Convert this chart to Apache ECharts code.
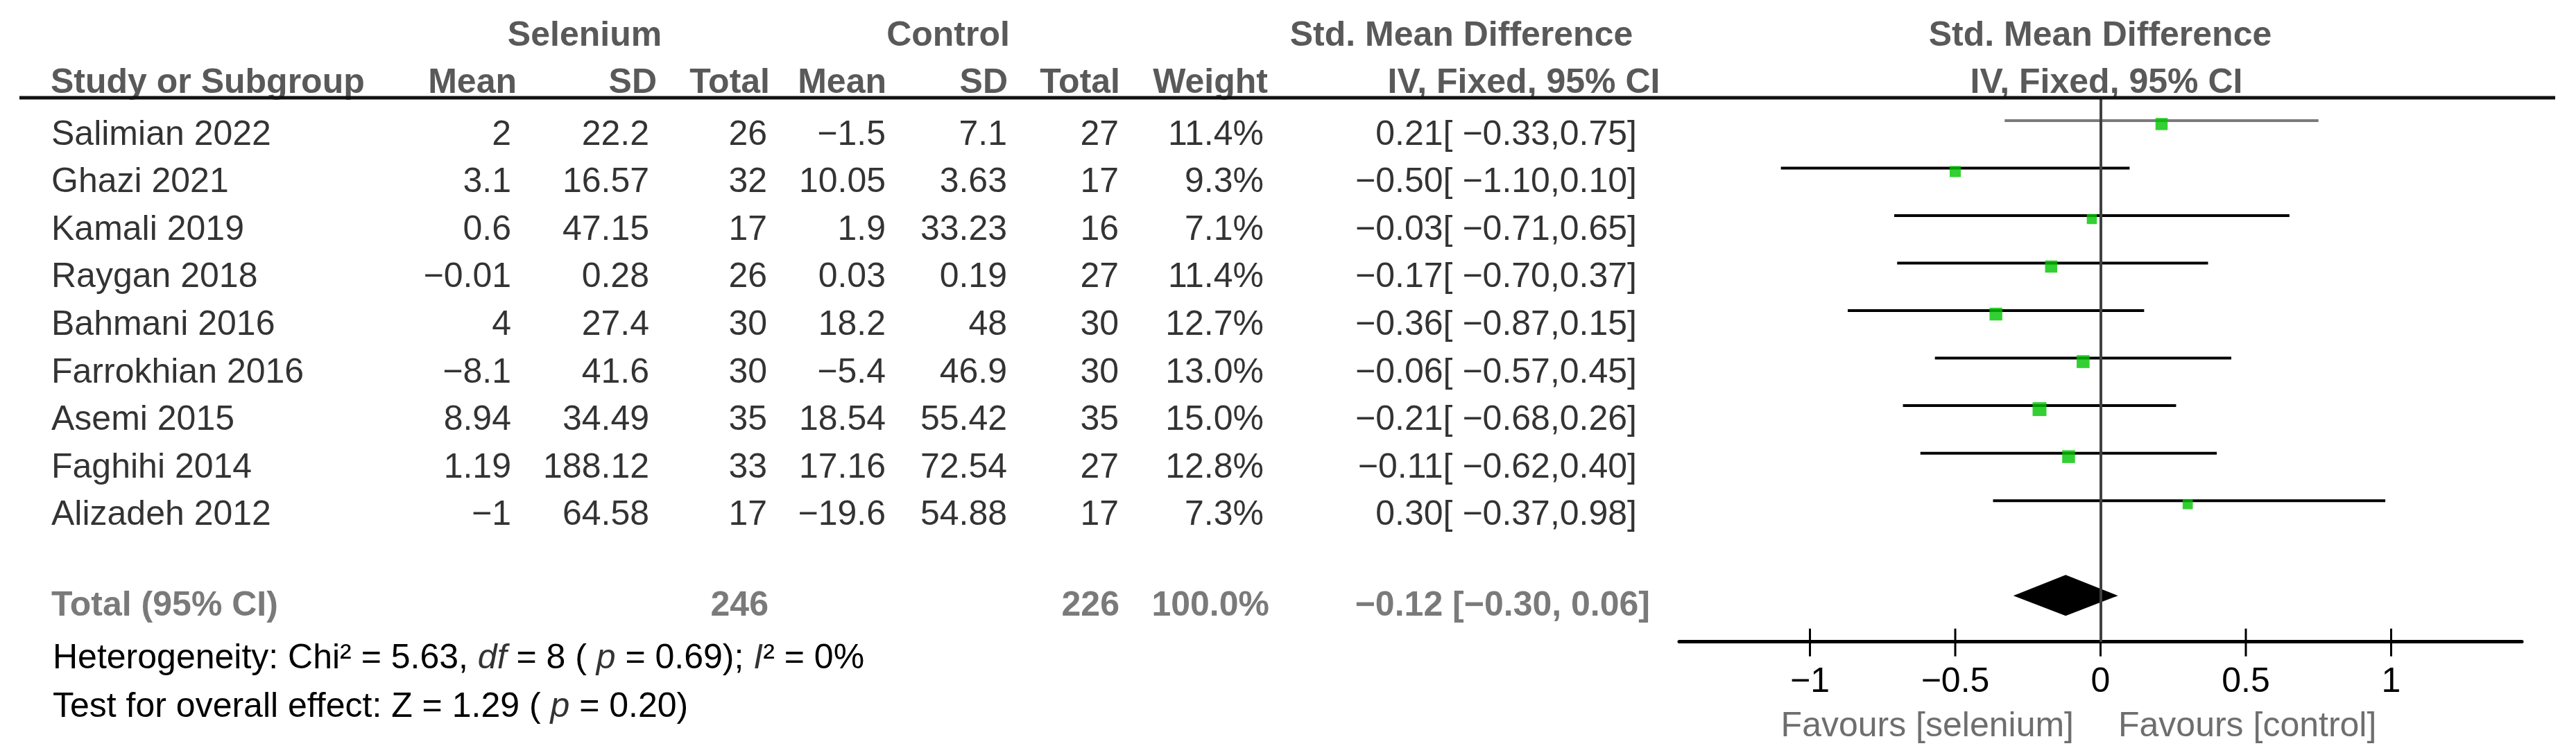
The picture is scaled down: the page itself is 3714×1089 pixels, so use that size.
<!DOCTYPE html>
<html><head><meta charset="utf-8">
<script src="https://cdn.jsdelivr.net/npm/echarts@6/dist/echarts.min.js"></script>
<style>html,body{margin:0;padding:0;background:#fff}#c{width:3714px;height:1089px}</style>
</head><body><div id="c"></div>
<script>
// ---------------- data ----------------
const studies   = ['Salimian 2022','Ghazi 2021','Kamali 2019','Raygan 2018','Bahmani 2016','Farrokhian 2016','Asemi 2015','Faghihi 2014','Alizadeh 2012'];
const selMean   = [2, 3.1, 0.6, -0.01, 4, -8.1, 8.94, 1.19, -1];
const selSD     = [22.2, 16.57, 47.15, 0.28, 27.4, 41.6, 34.49, 188.12, 64.58];
const selTotal  = [26, 32, 17, 26, 30, 30, 35, 33, 17];
const ctlMean   = [-1.5, 10.05, 1.9, 0.03, 18.2, -5.4, 18.54, 17.16, -19.6];
const ctlSD     = [7.1, 3.63, 33.23, 0.19, 48, 46.9, 55.42, 72.54, 54.88];
const ctlTotal  = [27, 17, 16, 27, 30, 30, 35, 27, 17];
const weights   = [11.4, 9.3, 7.1, 11.4, 12.7, 13.0, 15.0, 12.8, 7.3];
const smd       = [0.21, -0.50, -0.03, -0.17, -0.36, -0.06, -0.21, -0.11, 0.30];
const ciLow     = [-0.33, -1.10, -0.71, -0.70, -0.87, -0.57, -0.68, -0.62, -0.37];
const ciHigh    = [0.75, 0.10, 0.65, 0.37, 0.15, 0.45, 0.26, 0.40, 0.98];
const totalSel  = 246;
const totalCtl  = 226;
const totalWeight = 100.0;
const pooled    = [-0.12, -0.30, 0.06]; // estimate, low, high
const xTicks    = [-1, -0.5, 0, 0.5, 1];
const favours   = ['Favours [selenium]', 'Favours [control]'];

// ---------------- helpers ----------------
const FONT = '"Liberation Sans", Arial, "DejaVu Sans", sans-serif';
const FS = 50;
const HEAD = '#595959';
const INK = '#000000';
const m = v => String(v).replace('-', '\u2212');
const f2 = v => m(v.toFixed(2));
const TOTAL_ROW = 10;
const Y_MIN = -0.48, Y_MAX = 10.97;

function textCol(xPix, texts, align, rowIdx, opts) {
  opts = opts || {};
  return {
    type: 'scatter', xAxisIndex: 1, yAxisIndex: 1, silent: true, clip: false,
    symbolSize: 1, itemStyle: { color: 'rgba(0,0,0,0)' }, z: 5,
    data: texts.map((t, i) => ({ value: [xPix, rowIdx ? rowIdx[i] : i], txt: t })),
    label: {
      show: true, position: 'inside', align: align, verticalAlign: 'middle',
      offset: [0, opts.dy == null ? 18 : opts.dy],
      fontFamily: FONT, fontSize: FS, fontWeight: opts.bold ? 'bold' : 'normal',
      color: opts.color || INK,
      formatter: p => p.data.txt
    }
  };
}

const rowIdx = studies.map((_, i) => i);
const ciText = smd.map((v, i) => f2(v) + '[ ' + f2(ciLow[i]) + ',' + f2(ciHigh[i]) + ']');

const series = [
  // zero line + CI whiskers
  {
    type: 'custom', xAxisIndex: 0, yAxisIndex: 0, silent: true, z: 2,
    data: rowIdx.map(i => [ciLow[i], ciHigh[i], i]),
    renderItem: (params, api) => {
      const a = api.coord([api.value(0), api.value(2)]);
      const b = api.coord([api.value(1), api.value(2)]);
      return { type: 'line', shape: { x1: a[0], y1: a[1], x2: b[0], y2: b[1] },
        style: { stroke: params.dataIndex === 0 ? '#7a7a7a' : '#000', lineWidth: 4 } };
    },
    markLine: {
      silent: true, symbol: 'none', label: { show: false },
      lineStyle: { color: '#404040', width: 4, type: 'solid' },
      data: [{ xAxis: 0 }]
    }
  },
  // study squares
  {
    type: 'scatter', xAxisIndex: 0, yAxisIndex: 0, silent: true, z: 4,
    symbol: 'rect',
    data: rowIdx.map(i => ({ value: [smd[i], i], symbolSize: 9.5 + 0.7 * weights[i] })),
    symbolOffset: [0, 5],
    itemStyle: { color: '#00c400' }
  },
  // pooled diamond
  {
    type: 'custom', xAxisIndex: 0, yAxisIndex: 0, silent: true, z: 4,
    data: [[pooled[0], pooled[1], pooled[2], TOTAL_ROW]],
    renderItem: (params, api) => {
      const c = api.coord([api.value(0), api.value(3)]);
      const l = api.coord([api.value(1), api.value(3)]);
      const r = api.coord([api.value(2), api.value(3)]);
      return { type: 'polygon',
        shape: { points: [[l[0], c[1]], [c[0], c[1] - 30], [r[0], c[1]], [c[0], c[1] + 29]] },
        style: { fill: '#000' } };
    }
  },
  // axis ticks crossing axis line
  {
    type: 'custom', xAxisIndex: 0, yAxisIndex: 0, silent: true, z: 3,
    data: xTicks.map(v => [v, Y_MAX]),
    renderItem: (params, api) => {
      const p = api.coord([api.value(0), api.value(1)]);
      return { type: 'line', shape: { x1: p[0], y1: p[1] - 19, x2: p[0], y2: p[1] + 21 },
        style: { stroke: '#000', lineWidth: 3 } };
    }
  },
  // table columns
  textCol(74, studies, 'left'),
  textCol(737, selMean.map(m), 'right'),
  textCol(936, selSD.map(m), 'right'),
  textCol(1106, selTotal.map(String), 'right'),
  textCol(1277, ctlMean.map(m), 'right'),
  textCol(1452, ctlSD.map(m), 'right'),
  textCol(1613, ctlTotal.map(String), 'right'),
  textCol(1822, weights.map(w => w.toFixed(1) + '%'), 'right'),
  textCol(2360, ciText, 'right'),
  // total row
  textCol(74, ['Total (95% CI)'], 'left', [TOTAL_ROW], { bold: true, color: HEAD, dy: 12 }),
  textCol(1108, [String(totalSel)], 'right', [TOTAL_ROW], { bold: true, color: HEAD, dy: 12 }),
  textCol(1614, [String(totalCtl)], 'right', [TOTAL_ROW], { bold: true, color: HEAD, dy: 12 }),
  textCol(1830, [totalWeight.toFixed(1) + '%'], 'right', [TOTAL_ROW], { bold: true, color: HEAD, dy: 12 }),
  textCol(2379, [f2(pooled[0]) + ' [' + f2(pooled[1]) + ', ' + f2(pooled[2]) + ']'], 'right', [TOTAL_ROW], { bold: true, color: HEAD, dy: 12 })
];

function htext(x, y, text, align, bold, color) {
  return { type: 'text', x: x, y: y, silent: true,
    style: { text: text, align: align, verticalAlign: 'middle', fontFamily: FONT, fontSize: FS,
      fontWeight: bold ? 'bold' : 'normal', fill: color || HEAD } };
}

const graphic = [
  htext(843, 49, 'Selenium', 'center', true),
  htext(1367, 49, 'Control', 'center', true),
  htext(2107, 49, 'Std. Mean Difference', 'center', true),
  htext(3028, 49, 'Std. Mean Difference', 'center', true),
  htext(73, 117, 'Study or Subgroup', 'left', true),
  htext(745, 117, 'Mean', 'right', true),
  htext(947, 117, 'SD', 'right', true),
  htext(1110, 117, 'Total', 'right', true),
  htext(1278, 117, 'Mean', 'right', true),
  htext(1453, 117, 'SD', 'right', true),
  htext(1615, 117, 'Total', 'right', true),
  htext(1828, 117, 'Weight', 'right', true),
  htext(2197, 117, 'IV, Fixed, 95% CI', 'center', true),
  htext(3037, 117, 'IV, Fixed, 95% CI', 'center', true),
  { type: 'line', silent: true, z: 10, shape: { x1: 28, y1: 141, x2: 3684, y2: 141 },
    style: { stroke: '#111', lineWidth: 5 } },
  { type: 'text', x: 76, y: 947, silent: true,
    style: { text: 'Heterogeneity: Chi\u00b2 = 5.63, {i|df} = 8 ( {i|p} = 0.69); {i|I}\u00b2 = 0%',
      verticalAlign: 'middle', fontFamily: FONT, fontSize: FS, fill: INK,
      rich: { i: { fontStyle: 'italic', fontFamily: FONT, fontSize: FS, fill: '#333' } } } },
  { type: 'text', x: 76, y: 1017, silent: true,
    style: { text: 'Test for overall effect: Z = 1.29 ( {i|p} = 0.20)',
      verticalAlign: 'middle', fontFamily: FONT, fontSize: FS, fill: INK,
      rich: { i: { fontStyle: 'italic', fontFamily: FONT, fontSize: FS, fill: '#333' } } } },
  htext(2990, 1045, favours[0], 'right', false, '#6e6e6e'),
  htext(3054, 1045, favours[1], 'left', false, '#6e6e6e')
];

const chart = echarts.init(document.getElementById('c'), null, { renderer: 'svg' });
chart.setOption({
  animation: false,
  backgroundColor: '#fff',
  grid: [
    { left: 2421, right: 78, top: 141, bottom: 163.3 },
    { left: 0, right: 0, top: 141, bottom: 163.3 }
  ],
  xAxis: [
    { type: 'value', gridIndex: 0, min: -1.45, max: 1.45, position: 'bottom',
      splitLine: { show: false },
      axisLine: { show: true, onZero: false, lineStyle: { color: '#000', width: 5 } },
      axisTick: { show: false },
      axisLabel: { show: true, customValues: xTicks, margin: 30,
        formatter: v => m(v), fontFamily: FONT, fontSize: FS, color: INK } },
    { type: 'value', gridIndex: 1, min: 0, max: 3714, show: false }
  ],
  yAxis: [
    { type: 'value', gridIndex: 0, min: Y_MIN, max: Y_MAX, inverse: true, show: false },
    { type: 'value', gridIndex: 1, min: Y_MIN, max: Y_MAX, inverse: true, show: false }
  ],
  series: series,
  graphic: graphic
});
</script>
</body></html>
